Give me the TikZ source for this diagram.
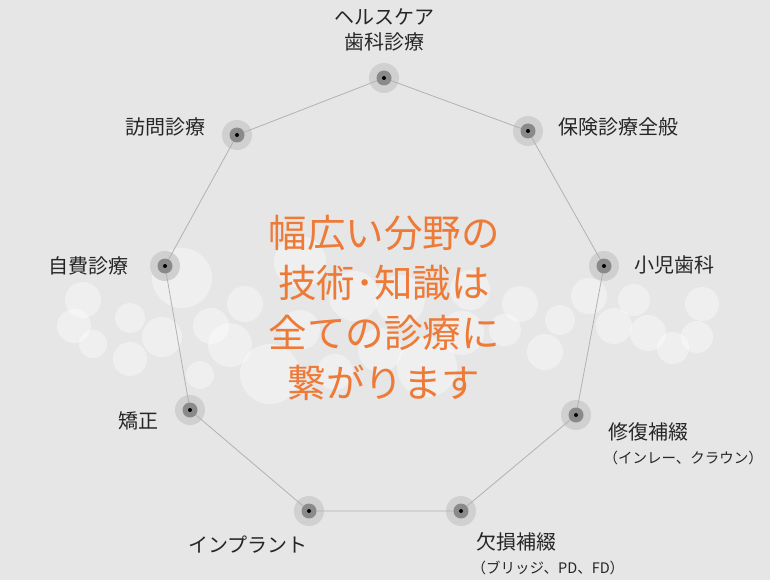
\documentclass[tikz,border=0pt]{standalone}
\usepackage{fontspec}
\setmainfont{Noto Sans CJK JP}
\usetikzlibrary{positioning}

\definecolor{bgGray}{HTML}{E6E6E6}
\definecolor{haloGray}{HTML}{D0D0D0}
\definecolor{coreGray}{HTML}{8A8A8A}
\definecolor{edgeGray}{HTML}{B2B2B2}
\definecolor{accentOrange}{HTML}{EE7A38}

\newcommand{\subline}[1]{{\fontsize{14.5}{19}\selectfont #1}}

\begin{document}
\begin{tikzpicture}[x=1pt, y=-1pt,
    every node/.style={font=\fontsize{20}{25}\selectfont, text=black!85},
    hub/.style={circle, fill=haloGray, minimum size=30pt, inner sep=0pt},
    bokeh/.style={fill=white, fill opacity=0.38},
    link/.style={draw=edgeGray, line width=0.8pt}]

% ---------------- Background ----------------
\fill[bgGray] (0,0) rectangle (770,580);
\useasboundingbox (0,0) rectangle (770,580);

% ---------------- Bokeh band ----------------
\foreach \bx/\by/\br in {182/278/30, 83/300/18, 74/326/17, 93/344/14, 130/359/17,
    162/337/20, 130/318/15, 211/326/18, 245/304/18, 270/374/30, 230/345/22,
    354/296/25, 300/330/20, 380/350/22, 427/367/30, 462/333/22, 400/300/25,
    520/304/18, 545/352/18, 505/330/16, 589/296/18, 614/326/18, 648/333/18,
    673/348/16, 634/300/16, 702/304/17, 697/337/16, 560/320/15, 300/262/26,
    335/372/18, 470/290/20, 200/375/14}
    \fill[bokeh] (\bx,\by) circle (\br);

% ---------------- Vertices (nonagon) ----------------
\node[hub] (v1) at (384,78)  {};
\node[hub] (v2) at (528,131) {};
\node[hub] (v3) at (604,266) {};
\node[hub] (v4) at (576,415) {};
\node[hub] (v5) at (461,511) {};
\node[hub] (v6) at (309,511) {};
\node[hub] (v7) at (190,410) {};
\node[hub] (v8) at (165,266) {};
\node[hub] (v9) at (237,135) {};

% ---------------- Edges ----------------
\draw[link] (v1.center) -- (v2.center) -- (v3.center) -- (v4.center) -- (v5.center)
    -- (v6.center) -- (v7.center) -- (v8.center) -- (v9.center) -- (v1.center);

\foreach \v in {v1,v2,v3,v4,v5,v6,v7,v8,v9} {
    \fill[coreGray] (\v) circle (7.5);
    \fill[black] (\v) circle (2);
}

% ---------------- Labels ----------------
\node[anchor=south, align=center] (t1) at (384,55) {ヘルスケア\\歯科診療};
\node[anchor=west] (t2) at (555,127) {保険診療全般};
\node[anchor=west] (t3) at (631,265) {小児歯科};
\node[anchor=north west, align=left] (t4) at (605,419)
    {修復補綴\\[-1pt]\hspace*{-5pt}\subline{（インレー、クラウン）}};
\node[anchor=north west, align=left] (t5) at (473,529)
    {欠損補綴\\[-1pt]\hspace*{-5pt}\subline{（ブリッジ、PD、FD）}};
\node[anchor=north] (t6) at (248,532) {インプラント};
\node[anchor=east] (t7) at (162,421) {矯正};
\node[anchor=east] (t8) at (132,266) {自費診療};
\node[anchor=east] (t9) at (209,127) {訪問診療};

% ---------------- Center message ----------------
\node[align=center, text=accentOrange, font=\fontsize{38.5}{50}\selectfont] (msg) at (384,308)
    {幅広い分野の\\技術･知識は\\全ての診療に\\繋がります};

\end{tikzpicture}
\end{document}
